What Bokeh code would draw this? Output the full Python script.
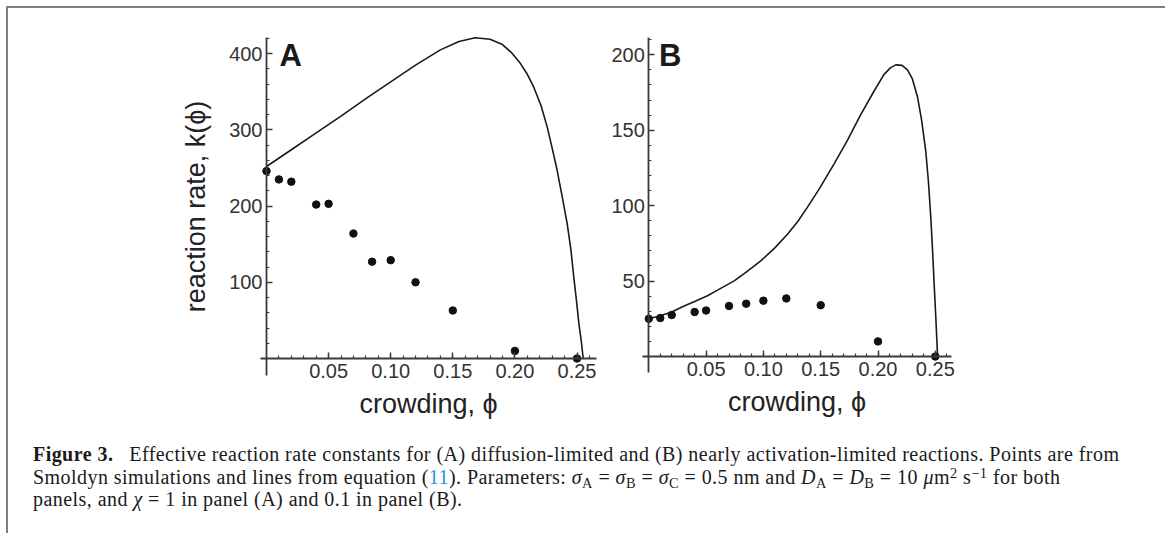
from bokeh.plotting import figure
from bokeh.models import Range1d, FixedTicker, Label, Div
from bokeh.layouts import row, column
from bokeh.embed import file_html
from bokeh.resources import INLINE

# ---------------- data ----------------
phi_points = [0.0, 0.01, 0.02, 0.04, 0.05, 0.07, 0.085, 0.10, 0.12, 0.15, 0.20, 0.25]
k_points_A = [246, 235, 232, 202, 203, 164, 127, 129, 100, 63, 10, 0]
k_points_B = [25, 25.5, 27.5, 29.5, 30.5, 33.5, 35, 37, 38.5, 34, 10, 0]

phi_curve_A = [0.0, 0.02, 0.04, 0.06, 0.08, 0.10, 0.12, 0.14, 0.155, 0.168, 0.180, 0.190,
               0.1975, 0.2045, 0.210, 0.2152, 0.221, 0.226, 0.230, 0.234, 0.238, 0.2421,
               0.245, 0.2474, 0.2495, 0.2515, 0.2535, 0.255]
k_curve_A = [252, 274, 296, 318, 341, 363, 385, 405, 416, 421, 419, 412,
             401, 387, 373, 356, 332, 304, 276, 247, 213, 177,
             144, 107, 77, 46, 22, 0]

phi_curve_B = [0.0, 0.01, 0.02, 0.0308, 0.04, 0.0512, 0.06, 0.0745, 0.085, 0.0977, 0.11,
               0.121, 0.130, 0.1385, 0.1486, 0.1617, 0.1734, 0.1847, 0.1966, 0.2053, 0.2110,
               0.2155, 0.221, 0.2257, 0.230, 0.2345, 0.238, 0.2417, 0.244, 0.246, 0.2475,
               0.249, 0.2505, 0.252]
k_curve_B = [25, 27, 29.5, 33.5, 36.5, 40.3, 44, 50.1, 56, 63.4, 72,
             81, 89.5, 99, 111, 127.7, 143.5, 160, 176, 187, 191.5,
             193.3, 193, 190, 184, 172, 157, 136, 116, 93, 72,
             48, 25, 0]

x_ticks = [0.05, 0.10, 0.15, 0.20, 0.25]
x_tick_labels = ["0.05", "0.10", "0.15", "0.20", "0.25"]
x_minor = [round(0.01 * i, 2) for i in range(1, 27)]
y_ticks_A = [100, 200, 300, 400]
y_minor_A = [20 * i for i in range(1, 22)]
y_ticks_B = [50, 100, 150, 200]
y_minor_B = [10 * i for i in range(1, 22)]

FONT = "Liberation Sans"
AXIS_COLOR = "#3a3a3a"
FIG_H = 430
FRAME_TOP, FRAME_BOTTOM = 22, 428   # frame edges inside the figure (px from figure top)


def make_panel(fig_left, fig_width, frame_left, frame_right, x0_px, x_scale, y0_px, y_scale,
               x_bounds, y_bounds, yt, ymin, phi_c, k_c, k_p, letter, letter_pos, ylabel):
    # x0_px / y0_px: page position of the data origin; scales in px per data unit
    fl = frame_left - fig_left
    fr = fig_left + fig_width - frame_right
    top_page = 8 + FRAME_TOP
    bot_page = 8 + FRAME_BOTTOM
    xr = ((frame_left - x0_px) / x_scale, (frame_right - x0_px) / x_scale)
    yr = ((y0_px - bot_page) / y_scale, (y0_px - top_page) / y_scale)
    p = figure(width=fig_width, height=FIG_H, output_backend="svg", toolbar_location=None,
               x_range=Range1d(*xr), y_range=Range1d(*yr),
               min_border_left=fl, min_border_right=fr,
               min_border_top=FRAME_TOP, min_border_bottom=FIG_H - FRAME_BOTTOM)
    p.outline_line_color = None
    p.grid.visible = False
    p.background_fill_color = "white"
    p.border_fill_color = "white"

    for ax in (p.xaxis[0], p.yaxis[0]):
        ax.fixed_location = 0
        ax.axis_line_color = AXIS_COLOR
        ax.axis_line_width = 1.8
        ax.major_tick_line_color = AXIS_COLOR
        ax.minor_tick_line_color = AXIS_COLOR
        ax.major_tick_line_width = 1.5
        ax.minor_tick_line_width = 1.2
        ax.major_tick_in = 6
        ax.major_tick_out = 0
        ax.minor_tick_in = 3
        ax.minor_tick_out = 0
        ax.major_label_text_font = FONT
        ax.major_label_text_font_size = "20px"
        ax.major_label_text_color = "#333333"
        ax.axis_label_text_font = FONT
        ax.axis_label_text_font_size = "27px"
        ax.axis_label_text_font_style = "normal"
        ax.axis_label_text_color = "#222222"

    p.xaxis.bounds = x_bounds
    p.yaxis.bounds = y_bounds
    p.xaxis.ticker = FixedTicker(ticks=x_ticks, minor_ticks=x_minor)
    p.xaxis.major_label_overrides = {t: l for t, l in zip(x_ticks, x_tick_labels)}
    p.xaxis.major_label_standoff = 5
    p.xaxis.axis_label = "crowding, \u03d5"
    p.xaxis.axis_label_standoff = 8

    p.yaxis.ticker = FixedTicker(ticks=yt, minor_ticks=ymin)
    p.yaxis.major_label_standoff = 4
    p.yaxis.axis_label = ylabel
    p.yaxis.axis_label_standoff = 15

    p.line(phi_c, k_c, line_color="#1a1a1a", line_width=1.6)
    p.scatter(phi_points, k_p, size=7.5, fill_color="#111111", line_color="#111111")

    p.add_layout(Label(x=letter_pos[0], y=letter_pos[1], text=letter, text_font=FONT,
                       text_font_style="bold", text_font_size="31px", text_color="#1a1a1a",
                       text_baseline="top", text_align="left"))
    return p


pA = make_panel(8, 597, 176, 600, 266.0, 1242.0, 358.0, 0.762,
                (-0.0048, 0.2657), (-22.3, 421.3),
                y_ticks_A, y_minor_A, phi_curve_A, k_curve_A, k_points_A, "A",
                (0.0105, 420.5), "reaction rate, k(\u03d5)")
pB = make_panel(605, 554, 606, 1150, 648.3, 1146.0, 356.0, 1.5085,
                (-0.0058, 0.2641), (-10.6, 211.5),
                y_ticks_B, y_minor_B, phi_curve_B, k_curve_B, k_points_B, "B",
                (0.0088, 211.2), "")

sub = 'style="font-size:0.72em;vertical-align:-0.28em;line-height:0"'
sup = 'style="font-size:0.72em;vertical-align:0.45em;line-height:0"'
line1 = ('<b>Figure 3.</b>&ensp; Effective reaction rate constants for (A) diffusion-limited '
         'and (B) nearly activation-limited reactions. Points are from')
line2 = ('Smoldyn simulations and lines from equation (<span style="color:#1f97d4">11</span>). '
         f'Parameters: <i>\u03c3</i><span {sub}>A</span> = <i>\u03c3</i><span {sub}>B</span> = '
         f'<i>\u03c3</i><span {sub}>C</span> = 0.5 nm and <i>D</i><span {sub}>A</span> = '
         f'<i>D</i><span {sub}>B</span> = 10 <i>\u03bc</i>m<span {sup}>2</span> '
         f's<span {sup}>\u22121</span> for both')
line3 = 'panels, and <i>\u03c7</i> = 1 in panel (A) and 0.1 in panel (B).'
caption_html = ('<div style="font-family:\'Liberation Serif\',serif;font-size:20px;'
                'letter-spacing:0.45px;line-height:22.5px;color:#1a1a1a;padding-left:20px;'
                'padding-top:0px;white-space:nowrap;">'
                + line1 + '<br>' + line2 + '<br>' + line3 + '</div>')
caption = Div(text=caption_html, width=1151, height=95)

root = column(row(pA, pB), caption, margin=(6, 0, 0, 6),
              styles={"border-top": "2px solid #808080", "border-left": "2px solid #808080",
                      "border-right": "2px solid #808080", "background": "white"})

open("out.html", "w").write(file_html(root, INLINE))
